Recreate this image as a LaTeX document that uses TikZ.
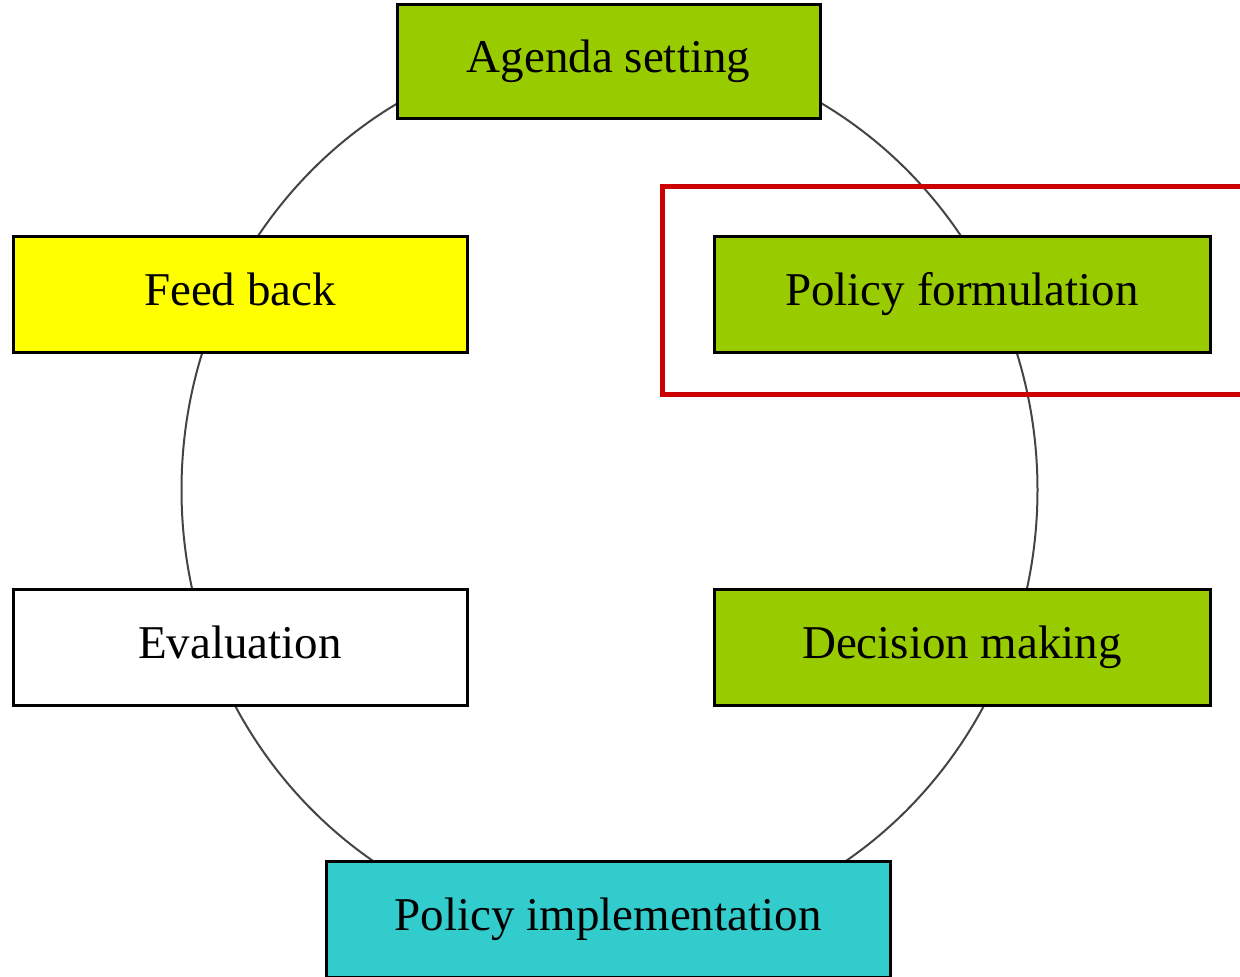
\documentclass[tikz,border=0pt]{standalone}
\usepackage{fontspec}
\setmainfont{Liberation Serif}
\usepackage{xcolor}
\usepackage{tikz}
\usetikzlibrary{shapes,positioning,fit,backgrounds}

\definecolor{stagegreen}{HTML}{99CC00}
\definecolor{stageyellow}{HTML}{FFFF00}
\definecolor{stagecyan}{HTML}{33CCCC}
\definecolor{markred}{HTML}{CC0000}
\definecolor{ringgray}{HTML}{444444}

\begin{document}
\begin{tikzpicture}[
    x=1pt, y=1pt,
    node distance=234pt,
    stage/.style={rectangle, draw, line width=3pt, minimum width=454pt, minimum height=116pt, fill=white, text height=32pt, text depth=10pt, font=\fontsize{47}{50}\selectfont},
    ring/.style={draw=ringgray, line width=2pt},
    highlight/.style={draw=markred, line width=5pt}
]
    \useasboundingbox (0,0) rectangle (1240,977);

    % Cycle
    \coordinate (hub) at (609.5,487);
    \draw[ring] (hub) ellipse [x radius=428, y radius=445];

    % Stages
    \node[stage, fill=stagegreen, minimum width=423pt, minimum height=114pt] (agenda) at (608.5,915) {Agenda setting};
    \node[stage, fill=stagegreen, minimum width=496pt] (formulation) at (962,682) {Policy formulation};
    \node[stage, fill=stageyellow] (feedback) at (240,682) {Feed back};
    \node[stage, fill=stagegreen, minimum width=496pt, below=of formulation] (decision) {Decision making};
    \node[stage, below=of feedback] (evaluation) {Evaluation};
    \node[stage, fill=stagecyan, minimum width=564pt] (implementation) at (608,57) {Policy implementation};

    % Highlight
    \draw[highlight] ([shift={(-50,49)}]formulation.north west) rectangle ([shift={(60,-40)}]formulation.south east);

\end{tikzpicture}
\end{document}
